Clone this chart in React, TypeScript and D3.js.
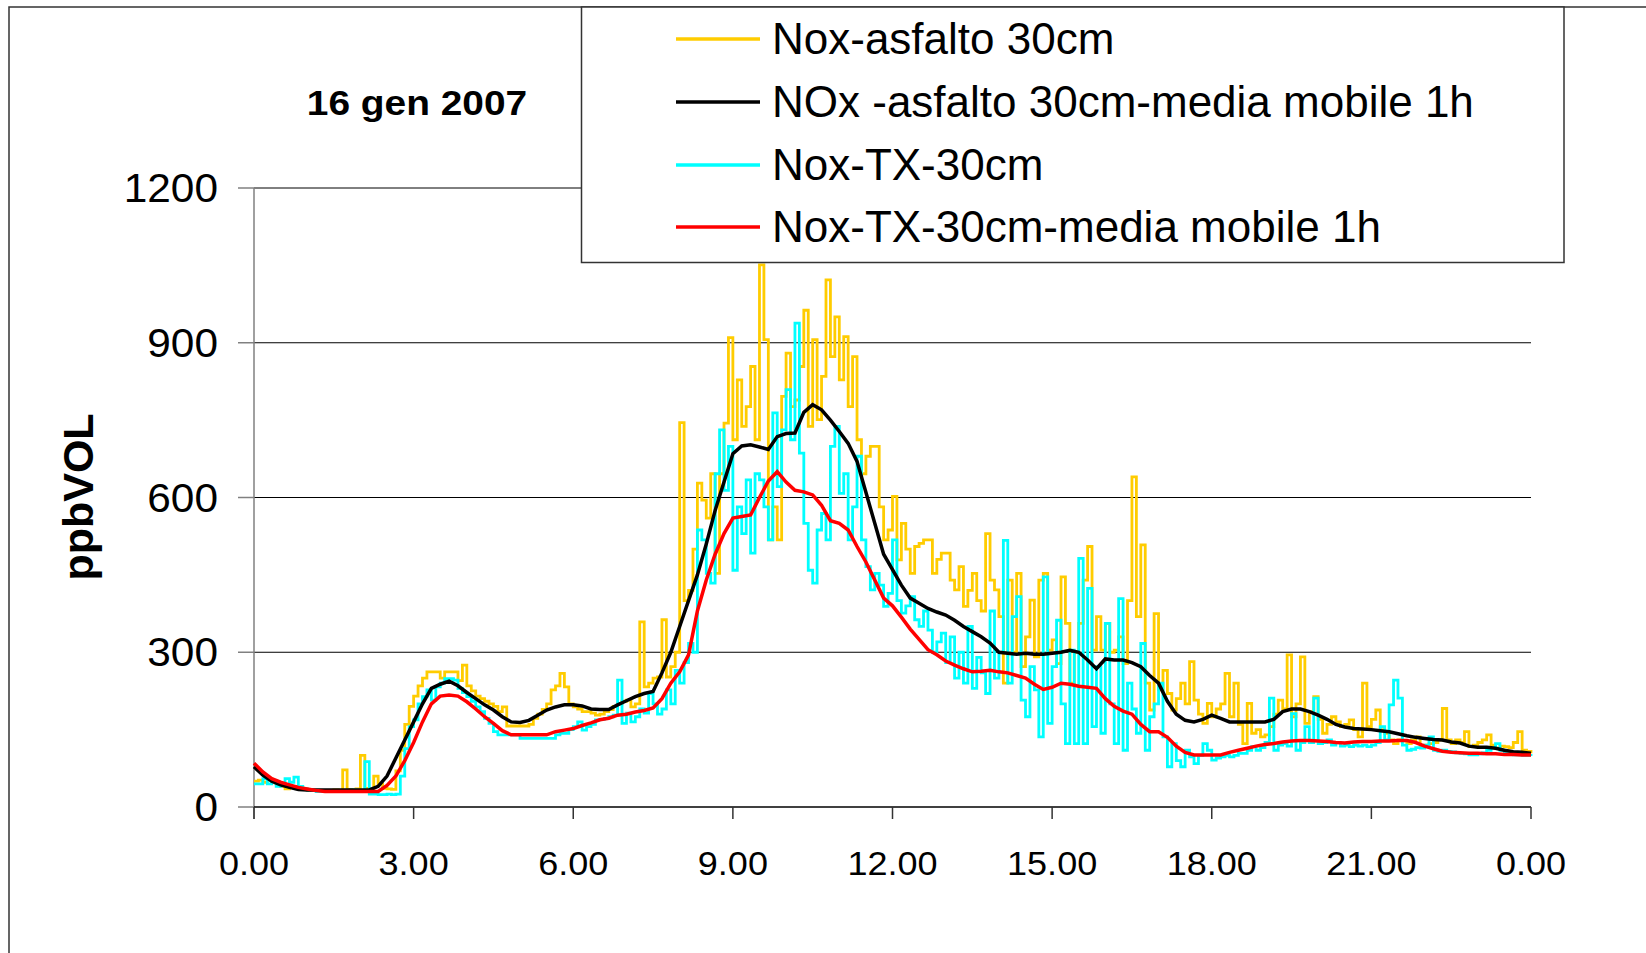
import React from "react";
import * as d3 from "d3";

// ---------- DATA ----------
// raw series: one value every 5 minutes, 0:00 .. 24:00
const asfaltoRaw: number[] = [
  // 0h
  50, 52, 48, 55, 50, 45, 40, 35, 38, 40, 38, 35,
  // 1h
  33, 32, 32, 30, 32, 30, 33, 32, 72, 34, 33, 35,
  // 2h
  100, 36, 34, 60, 45, 36, 35, 34, 70, 110, 160, 195,
  // 3h
  215, 235, 250, 262, 262, 262, 250, 262, 262, 262, 245, 275,
  // 4h
  235, 225, 215, 210, 205, 200, 195, 185, 194, 157, 157, 157,
  // 5h
  157, 157, 160, 172, 180, 189, 200, 227, 235, 259, 233, 200,
  // 6h
  194, 190, 185, 185, 182, 178, 180, 185, 189, 195, 200, 205,
  // 7h
  207, 194, 200, 359, 233, 240, 250, 252, 363, 252, 272, 300,
  // 8h
  745, 400, 420, 500, 628, 595, 560, 646, 453, 646, 744, 910,
  // 9h
  712, 828, 738, 776, 854, 712, 1051, 906, 518, 582, 518, 796,
  // 10h
  880, 776, 789, 854, 963, 738, 906, 751, 835, 1022, 873, 950,
  // 11h
  828, 912, 776, 873, 712, 646, 680, 699, 699, 582, 518, 537,
  // 12h
  602, 479, 550, 500, 453, 505, 511, 518, 518, 453, 480, 492,
  // 13h
  492, 440, 421, 466, 389, 420, 453, 400, 380, 530, 440, 421,
  // 14h
  369, 240, 440, 300, 453, 272, 330, 401, 291, 440, 453, 304,
  // 15h
  324, 278, 446, 356, 240, 300, 356, 440, 505, 304, 369, 304,
  // 16h
  356, 300, 304, 330, 278, 400, 640, 369, 508, 240, 188, 375,
  // 17h
  227, 265, 220, 188, 210, 240, 200, 282, 207, 180, 162, 201,
  // 18h
  175, 190, 200, 259, 175, 240, 160, 123, 201, 143, 150, 136,
  // 19h
  140, 156, 180, 207, 190, 295, 175, 200, 291, 162, 185, 214,
  // 20h
  170, 143, 160, 175, 165, 156, 160, 169, 150, 136, 240, 156,
  // 21h
  170, 188, 150, 143, 130, 123, 130, 128, 123, 130, 136, 117,
  // 22h
  120, 123, 125, 130, 191, 130, 123, 130, 125, 146, 117, 120,
  // 23h
  125, 130, 140, 120, 114, 118, 117, 115, 125, 146, 110, 108,
  // 24h
  104,
];

const txRaw: number[] = [
  // 0h
  45, 45, 55, 45, 50, 40, 45, 55, 48, 58, 40, 35,
  // 1h
  33, 32, 30, 30, 30, 30, 32, 32, 30, 32, 33, 30,
  // 2h
  32, 88, 25, 25, 24, 24, 25, 24, 25, 60, 113, 156,
  // 3h
  169, 200, 214, 227, 207, 233, 240, 249, 249, 246, 230, 222,
  // 4h
  214, 205, 194, 185, 172, 162, 146, 140, 140, 140, 140, 140,
  // 5h
  133, 133, 133, 133, 133, 133, 133, 133, 140, 143, 143, 150,
  // 6h
  156, 165, 149, 156, 160, 169, 170, 172, 175, 178, 246, 162,
  // 7h
  182, 165, 175, 190, 182, 220, 200, 180, 190, 227, 200, 265,
  // 8h
  240, 280, 317, 300, 537, 518, 453, 434, 646, 731, 614, 699,
  // 9h
  459, 582, 530, 634, 492, 646, 634, 582, 518, 764, 621, 731,
  // 10h
  809, 712, 938, 686, 550, 459, 434, 537, 569, 518, 699, 738,
  // 11h
  608, 646, 518, 582, 680, 518, 466, 421, 453, 430, 389, 414,
  // 12h
  518, 400, 376, 390, 408, 363, 350, 380, 343, 300, 320, 337,
  // 13h
  280, 330, 250, 300, 240, 350, 230, 290, 260, 220, 380, 250,
  // 14h
  300, 517, 240, 369, 408, 207, 175, 272, 227, 136, 446, 162,
  // 15h
  272, 362, 200, 123, 304, 123, 482, 123, 424, 156, 272, 143,
  // 16h
  356, 200, 123, 404, 110, 240, 190, 143, 317, 110, 175, 200,
  // 17h
  240, 136, 78, 123, 90, 78, 110, 97, 84, 100, 123, 110,
  // 18h
  91, 95, 97, 100, 97, 100, 104, 104, 110, 117, 110, 115,
  // 19h
  125, 211, 110, 120, 123, 118, 181, 110, 125, 156, 125, 211,
  // 20h
  123, 125, 130, 120, 125, 118, 120, 117, 120, 118, 120, 117,
  // 21h
  120, 125, 156, 130, 198, 246, 211, 120, 110, 112, 115, 114,
  // 22h
  120, 136, 110, 108, 110, 108, 107, 105, 104, 103, 101, 101,
  // 23h
  103, 105, 110, 115, 123, 110, 105, 103, 101, 101, 100, 100,
  // 24h
  99,
];

// 1h moving averages: one value every 10 minutes, 0:00 .. 24:00
const asfaltoMA: number[] = [
  78, 62, 50, 43, 38, 34,
  33, 33, 33, 33, 33, 33,
  33, 33, 40, 60, 95, 130,
  165, 200, 230, 238, 244, 235,
  222, 210, 198, 188, 175, 165,
  164, 168, 178, 188, 194, 198,
  198, 196, 190, 189, 189, 198,
  206, 214, 220, 224, 260, 300,
  350, 400, 450, 510, 575, 630,
  685, 700, 702, 698, 693, 718,
  724, 725, 765, 780, 770, 750,
  728, 705, 670, 610, 550, 490,
  460, 430, 405, 395, 385, 378,
  372, 362, 350, 340, 330, 318,
  300, 298, 296, 298, 296, 296,
  298, 300, 304, 300, 285, 268,
  287, 285, 285, 280, 272, 255,
  240, 205, 180, 168, 165, 170,
  178, 172, 165, 165, 165, 165,
  165, 170, 185, 190, 190, 185,
  178, 170, 160, 155, 152, 151,
  150, 148, 146, 142, 138, 135,
  133, 131, 130, 126, 124, 118,
  116, 116, 114, 110, 107, 106,
  104,
];

const txMA: number[] = [
  85, 68, 55, 48, 43, 38,
  35, 32, 30, 30, 30, 30,
  30, 30, 30, 42, 60, 90,
  125, 165, 200, 215, 217, 215,
  204, 190, 175, 162, 148, 140,
  140, 140, 140, 140, 146, 149,
  152, 158, 163, 169, 172, 178,
  180, 184, 187, 192, 210, 240,
  262, 295, 380, 440, 490, 530,
  560, 563, 566, 600, 632, 650,
  630, 614, 611, 605, 585, 555,
  550, 537, 505, 475, 440, 405,
  390, 368, 345, 325, 305, 295,
  283, 275, 268, 262, 263, 265,
  262, 260, 255, 250, 238, 228,
  232, 240, 238, 234, 232, 230,
  210, 195, 186, 180, 160, 146,
  146, 135, 118, 106, 101, 101,
  101, 101, 106, 110, 114, 118,
  121, 123, 126, 128, 129, 129,
  128, 127, 125, 124, 126, 127,
  127, 128, 128, 129, 129, 125,
  118, 113, 108, 106, 105, 104,
  104, 103, 103, 102, 102, 101,
  101,
];

const seriesNames: string[] = [
  "Nox-asfalto 30cm",
  "NOx -asfalto 30cm-media mobile 1h",
  "Nox-TX-30cm",
  "Nox-TX-30cm-media mobile 1h",
];
const seriesColors: string[] = ["#FFCC00", "#000000", "#00FFFF", "#FF0000"];

const xTickHours: number[] = [0, 3, 6, 9, 12, 15, 18, 21, 24];
const xTickLabels: string[] = ["0.00", "3.00", "6.00", "9.00", "12.00", "15.00", "18.00", "21.00", "0.00"];
const yTicks: number[] = [0, 300, 600, 900, 1200];

const titleText = "16 gen 2007";
const yAxisTitle = "ppbVOL";

// ---------- CHART ----------
const W = 1646;
const H = 953;
const FONT = "'Liberation Sans', Arial, Helvetica, sans-serif";

export default function App() {
  const x = d3.scaleLinear().domain([0, 24]).range([254, 1531]);
  const y = d3.scaleLinear().domain([0, 1200]).range([807, 188]);

  const rawLine = d3
    .line<number>()
    .x((_, i) => x((i * 5) / 60))
    .y((d) => y(d))
    .curve(d3.curveStepAfter);
  const maLine = d3
    .line<number>()
    .x((_, i) => x((i * 10) / 60))
    .y((d) => y(d))
    .curve(d3.curveLinear);

  const legendRowsY = [39, 102, 165, 227];

  return (
    <svg
      width={W}
      height={H}
      style={{ position: "absolute", left: 0, top: 0, background: "#fff" }}
      fontFamily={FONT}
    >
      <rect x={0} y={0} width={W} height={H} fill="#fff" />
      {/* chart area border */}
      <rect x={9} y={7} width={W + 20} height={H + 20} fill="none" stroke="#333" strokeWidth={1.5} />

      {/* gridlines */}
      {yTicks.slice(1).map((t) => (
        <line key={"g" + t} x1={x(0)} x2={x(24)} y1={y(t)} y2={y(t)} stroke="#000" strokeWidth={1} />
      ))}

      {/* y axis */}
      <line x1={x(0)} x2={x(0)} y1={y(1200)} y2={y(0) + 12} stroke="#808080" strokeWidth={1.5} />
      {yTicks.map((t) => (
        <g key={"yt" + t}>
          <line x1={x(0) - 16} x2={x(0)} y1={y(t)} y2={y(t)} stroke="#808080" strokeWidth={1.5} />
          <text
            transform={`translate(218,${y(t) + 14}) scale(1.06,1)`}
            textAnchor="end"
            fontSize={40}
            fill="#000"
          >
            {t}
          </text>
        </g>
      ))}

      {/* x axis */}
      <line x1={x(0)} x2={x(24)} y1={y(0)} y2={y(0)} stroke="#000" strokeWidth={1.5} />
      {xTickHours.map((h, i) => (
        <g key={"xt" + i}>
          <line x1={x(h)} x2={x(h)} y1={y(0)} y2={y(0) + 12} stroke="#333" strokeWidth={1.5} />
          <text
            transform={`translate(${x(h)},875) scale(1.06,1)`}
            textAnchor="middle"
            fontSize={34}
            fill="#000"
          >
            {xTickLabels[i]}
          </text>
        </g>
      ))}

      {/* series */}
      <path d={rawLine(asfaltoRaw) || ""} fill="none" stroke={seriesColors[0]} strokeWidth={2.8} />
      <path d={rawLine(txRaw) || ""} fill="none" stroke={seriesColors[2]} strokeWidth={2.8} />
      <path d={maLine(asfaltoMA) || ""} fill="none" stroke={seriesColors[1]} strokeWidth={3.5} />
      <path d={maLine(txMA) || ""} fill="none" stroke={seriesColors[3]} strokeWidth={3.5} />

      {/* title */}
      <text
        transform={`translate(417,115) scale(1.08,1)`}
        textAnchor="middle"
        fontSize={36}
        fontWeight="bold"
        fill="#000"
      >
        {titleText}
      </text>

      {/* y axis title */}
      <text
        transform={`translate(93,497) rotate(-90)`}
        textAnchor="middle"
        fontSize={43}
        fontWeight="bold"
        fill="#000"
      >
        {yAxisTitle}
      </text>

      {/* legend */}
      <rect x={581.5} y={7} width={982.5} height={255.5} fill="#fff" stroke="#333" strokeWidth={1.5} />
      {seriesNames.map((name, i) => (
        <g key={"lg" + i}>
          <line
            x1={676}
            x2={760}
            y1={legendRowsY[i]}
            y2={legendRowsY[i]}
            stroke={seriesColors[i]}
            strokeWidth={3.5}
          />
          <text x={772} y={legendRowsY[i] + 15} fontSize={44} fill="#000">
            {name}
          </text>
        </g>
      ))}
    </svg>
  );
}
